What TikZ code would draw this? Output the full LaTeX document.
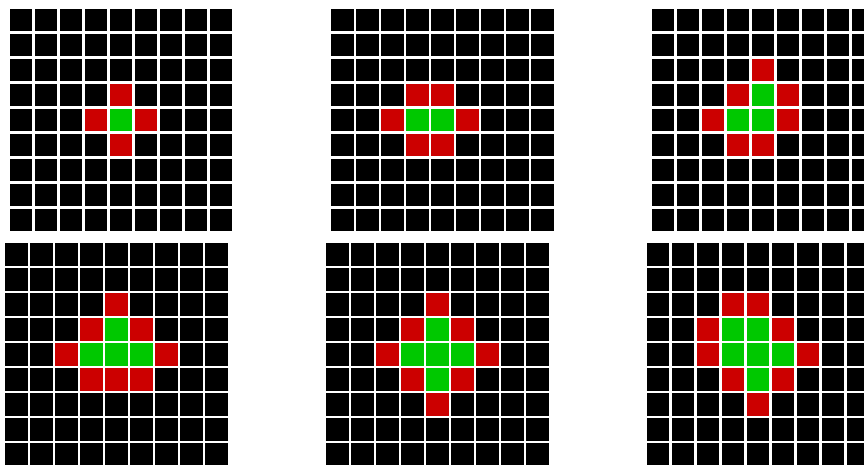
\documentclass[tikz,border=0pt]{standalone}
\definecolor{cred}{RGB}{204,0,0}
\definecolor{cgreen}{RGB}{0,200,0}
\newcommand\mygrid[4]{%
  \foreach \i in {0,...,8}{\foreach \j in {0,...,8}{\fill[cellblk] ({#1+25*\i},{#2+25*\j}) rectangle ++(22.4,22.4);}}
  \foreach \i/\j in {#3}{\fill[cellgrn] ({#1+25*\i},{#2+25*\j}) rectangle ++(22.4,22.4);}
  \foreach \i/\j in {#4}{\fill[cellred] ({#1+25*\i},{#2+25*\j}) rectangle ++(22.4,22.4);}
}
\begin{document}
\begin{tikzpicture}[x=1pt,y=-1pt,
  cellblk/.style={fill=black},
  cellgrn/.style={fill=cgreen},
  cellred/.style={fill=cred}]
\useasboundingbox (0,0) rectangle (864,464);
\clip (0,0) rectangle (864,464);
\mygrid{10}{9}{4/4}{4/3,3/4,5/4,4/5}
\mygrid{331.3}{9}{3/4,4/4}{3/3,4/3,2/4,5/4,3/5,4/5}
\mygrid{651.8}{9}{4/3,3/4,4/4}{4/2,3/3,5/3,2/4,5/4,3/5,4/5}
\mygrid{5.3}{243.3}{4/3,3/4,4/4,5/4}{4/2,3/3,5/3,2/4,6/4,3/5,4/5,5/5}
\mygrid{326.2}{243.3}{4/3,3/4,4/4,5/4,4/5}{4/2,3/3,5/3,2/4,6/4,3/5,5/5,4/6}
\mygrid{646.8}{243.3}{3/3,4/3,3/4,4/4,5/4,4/5}{3/2,4/2,2/3,5/3,2/4,6/4,3/5,5/5,4/6}
\end{tikzpicture}
\end{document}
